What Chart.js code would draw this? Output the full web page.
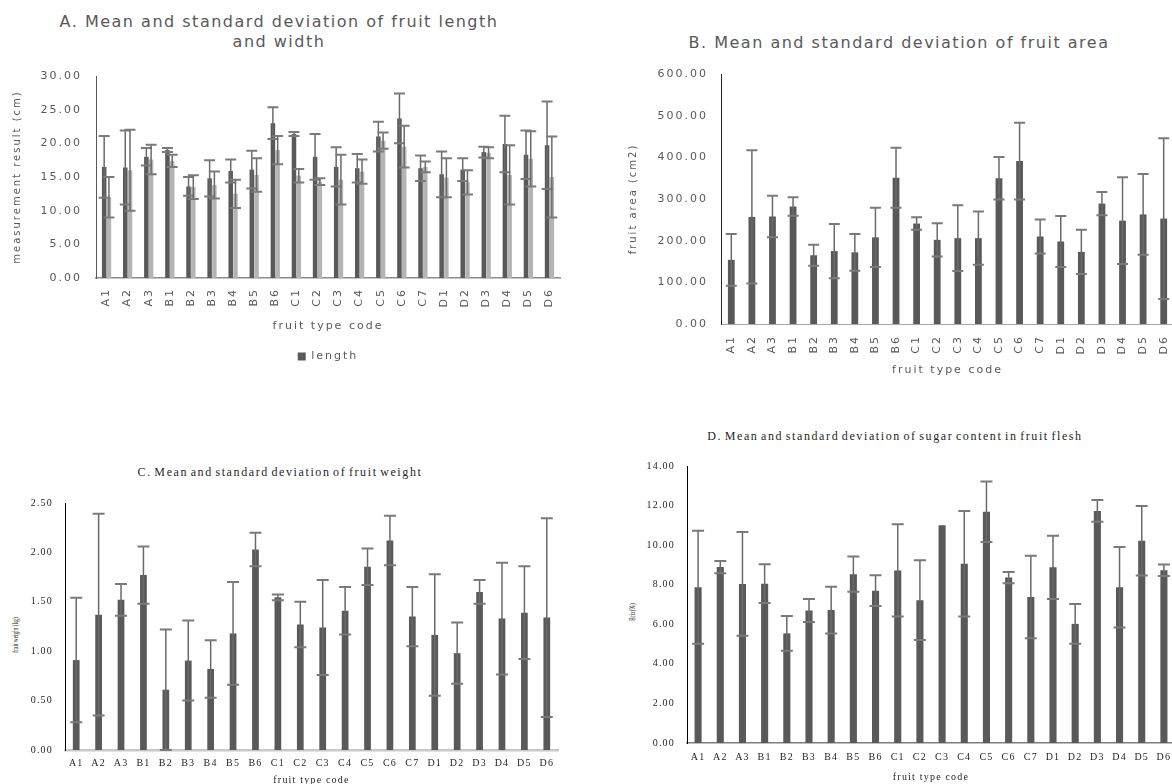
<!DOCTYPE html>
<html lang="en">
<head>
<meta charset="utf-8">
<title>Fruit measurements</title>
<script src="https://cdn.jsdelivr.net/npm/chart.js@4.4.1/dist/chart.umd.min.js"></script>
<style>
  html, body { margin: 0; padding: 0; background: #fff; }
  body { position: relative; width: 1172px; height: 784px; overflow: hidden; }
  canvas { position: absolute; }
  .title { position: absolute; white-space: nowrap; text-align: center; transform: translateX(-50%); }
  .sans { font: 16px/20px 'DejaVu Sans', sans-serif; letter-spacing: 1.5px; color: #595959; }
  .serif { font: 12px/16px 'Liberation Serif', serif; letter-spacing: 1.6px; word-spacing: -2px; color: #262626; }
  .ytitle { position: absolute; white-space: nowrap; font: 9px 'Liberation Serif', serif; color: #262626;
            transform: translate(-50%, -50%) rotate(-90deg) scaleX(0.6); }
</style>
</head>
<body>
<div class="title sans" style="left:279px; top:12px;">A. Mean and standard deviation of fruit length<br>and width</div>
<div class="title sans" style="left:899px; top:33px;">B. Mean and standard deviation of fruit area</div>
<div class="title serif" style="left:280px; top:464px;">C. Mean and standard deviation of fruit weight</div>
<div class="title serif" style="left:895px; top:428px;">D. Mean and standard deviation of sugar content in fruit flesh</div>
<div class="ytitle" style="left:15px; top:635px;">fruit weight (kg)</div>
<div class="ytitle" style="left:632px; top:612px;">Brix(%)</div>

<canvas id="chart__a" width="585" height="372" style="left:0; top:0;"></canvas>
<canvas id="chart__b" width="600" height="381" style="left:590px; top:0;"></canvas>
<canvas id="chart__c" width="590" height="335" style="left:0; top:455px;"></canvas>
<canvas id="chart__d" width="590" height="342" style="left:590px; top:445px;"></canvas>

<script>
const fruitCodes = ['A1', 'A2', 'A3', 'B1', 'B2', 'B3', 'B4', 'B5', 'B6', 'C1', 'C2', 'C3', 'C4', 'C5', 'C6', 'C7', 'D1', 'D2', 'D3', 'D4', 'D5', 'D6']

// A. length / width (cm)
const lengthMean = [16.5, 16.4, 18.0, 19.0, 13.6, 14.8, 15.9, 16.1, 23.0, 21.4, 18.0, 16.5, 16.3, 21.0, 23.7, 16.3, 15.4, 16.1, 18.7, 19.9, 18.3, 19.7]
const lengthSd = [4.6, 5.5, 1.3, 0.3, 1.4, 2.7, 1.7, 2.8, 2.35, 0.3, 3.4, 2.9, 2.1, 2.2, 3.7, 1.9, 3.4, 1.7, 0.8, 4.2, 3.6, 6.5]
const widthMean = [12.0, 16.0, 17.6, 17.4, 13.5, 13.8, 12.5, 15.3, 19.0, 15.2, 14.3, 14.6, 15.8, 20.4, 19.5, 16.5, 14.9, 14.2, 18.6, 15.3, 17.7, 15.0]
const widthSd = [3.0, 6.0, 2.2, 0.9, 1.75, 2.0, 2.1, 2.5, 2.1, 1.0, 0.5, 3.7, 1.8, 1.2, 3.1, 0.8, 2.9, 1.8, 0.8, 4.4, 4.1, 6.0]

// B. area (cm2)
const areaMean = [154, 257, 258, 282, 165, 175, 172, 208, 351, 241, 202, 206, 206, 350, 391, 210, 198, 173, 289, 248, 263, 253]
const areaSd = [62, 160, 50, 22, 25, 65, 44, 71, 72, 15, 40, 79, 64, 51, 92, 41, 61, 53, 28, 104, 97, 193]

// C. weight (kg)
const weightMean = [0.91, 1.37, 1.52, 1.77, 0.61, 0.905, 0.82, 1.18, 2.03, 1.545, 1.27, 1.24, 1.41, 1.855, 2.12, 1.35, 1.165, 0.98, 1.60, 1.33, 1.39, 1.34]
const weightSd = [0.63, 1.02, 0.16, 0.29, 0.61, 0.405, 0.29, 0.52, 0.17, 0.03, 0.23, 0.48, 0.24, 0.185, 0.25, 0.30, 0.615, 0.31, 0.12, 0.565, 0.47, 1.005]

// D. sugar content (Brix %)
const brixMean = [7.87, 8.89, 8.04, 8.05, 5.54, 6.70, 6.72, 8.53, 7.70, 8.72, 7.22, 11.0, 9.06, 11.69, 8.36, 7.38, 8.88, 6.02, 11.73, 7.87, 10.22, 8.73]
const brixSd = [2.86, 0.31, 2.62, 0.98, 0.88, 0.58, 1.18, 0.89, 0.78, 2.33, 2.02, 0, 2.67, 1.53, 0.28, 2.08, 1.6, 1.01, 0.55, 2.03, 1.76, 0.29]

// mean +/- sd whiskers, drawn on top of the bars
const errorBars = {
    id: 'errorBars',
    afterDatasetsDraw(chart, args, opts) {
        const { ctx, scales: { y } } = chart
        chart.data.datasets.forEach((ds, i) => {
            if (!ds.sd) return
            chart.getDatasetMeta(i).data.forEach((bar, j) => {
                const sd = ds.sd[j]
                if (!sd) return
                const top = y.getPixelForValue(ds.data[j] + sd)
                const bottom = y.getPixelForValue(ds.data[j] - sd)
                ctx.save()
                ctx.strokeStyle = opts.color
                ctx.lineWidth = opts.width
                ctx.beginPath()
                ctx.moveTo(bar.x, top)
                ctx.lineTo(bar.x, bottom)
                ctx.stroke()
                ctx.strokeStyle = opts.capColor
                ctx.lineWidth = opts.capWidth
                ctx.beginPath()
                ctx.moveTo(bar.x - opts.cap, top)
                ctx.lineTo(bar.x + opts.cap, top)
                ctx.moveTo(bar.x - opts.cap, bottom)
                ctx.lineTo(bar.x + opts.cap, bottom)
                ctx.stroke()
                ctx.restore()
            })
        })
    }
}

// the source figure has very spread out lettering
const letterSpacing = {
    id: 'letterSpacing',
    beforeUpdate(chart, args, opts) { chart.ctx.letterSpacing = opts.value },
    beforeDraw(chart, args, opts) { chart.ctx.letterSpacing = opts.value }
}

const sansFont = { family: "'DejaVu Sans', sans-serif", size: 11 }
const serifFont = { family: "'Liberation Serif', serif", size: 10 }

// A
new Chart(document.getElementById('chart__a'), {
    type: 'bar',
    data: {
        labels: fruitCodes,
        datasets: [{
            label: 'length',
            data: lengthMean,
            sd: lengthSd,
            backgroundColor: '#595959',
            categoryPercentage: 0.45,
            barPercentage: 0.95
        }, {
            label: 'width',
            data: widthMean,
            sd: widthSd,
            backgroundColor: '#b4b4b4',
            categoryPercentage: 0.45,
            barPercentage: 0.95
        }]
    },
    options: {
        responsive: false,
        animation: false,
        layout: { padding: { top: 76, right: 25, left: 0, bottom: 0 } },
        plugins: {
            tooltip: { enabled: false },
            legend: {
                position: 'bottom',
                fullSize: false,
                labels: {
                    filter: item => item.datasetIndex === 0, // only "length" shows in the original
                    boxWidth: 8,
                    boxHeight: 8,
                    padding: 14,
                    color: '#595959',
                    font: sansFont
                }
            },
            errorBars: { color: '#6a6a6a', width: 1.5, capColor: '#7a7a7a', capWidth: 2, cap: 5.5 },
            letterSpacing: { value: '2px' }
        },
        scales: {
            x: {
                grid: { display: false, drawTicks: false },
                border: { color: '#8c8c8c', width: 1.5 },
                ticks: { minRotation: 90, maxRotation: 90, padding: 10, color: '#595959', font: sansFont, autoSkip: false },
                title: { display: true, text: 'fruit type code', color: '#595959', font: sansFont, padding: { top: 4, bottom: 4 } },
                afterFit: s => { s.height = 59 }
            },
            y: {
                min: 0,
                max: 30,
                grid: { display: false, drawTicks: false },
                border: { color: '#595959', width: 1 },
                ticks: { stepSize: 5, padding: 14, color: '#595959', font: sansFont, callback: v => v.toFixed(2) },
                title: { display: true, text: 'measurement result (cm)', color: '#595959', font: { family: "'DejaVu Sans', sans-serif", size: 10 }, padding: { top: 11, bottom: 4 } },
                afterFit: s => { s.width = 96 }
            }
        }
    },
    plugins: [errorBars, letterSpacing]
});

// B
new Chart(document.getElementById('chart__b'), {
    type: 'bar',
    data: {
        labels: fruitCodes,
        datasets: [{
            label: 'area',
            data: areaMean,
            sd: areaSd,
            backgroundColor: '#595959',
            categoryPercentage: 0.33,
            barPercentage: 1
        }]
    },
    options: {
        responsive: false,
        animation: false,
        layout: { padding: { top: 74, right: 16, left: 0, bottom: 0 } },
        plugins: {
            tooltip: { enabled: false },
            legend: { display: false },
            errorBars: { color: '#6a6a6a', width: 1.5, capColor: '#7a7a7a', capWidth: 2, cap: 5.5 },
            letterSpacing: { value: '2px' }
        },
        scales: {
            x: {
                grid: { display: false, drawTicks: false },
                border: { color: '#a6a6a6', width: 1 },
                ticks: { minRotation: 90, maxRotation: 90, padding: 11, color: '#595959', font: sansFont, autoSkip: false },
                title: { display: true, text: 'fruit type code', color: '#595959', font: sansFont, padding: { top: 4, bottom: 4 } },
                afterFit: s => { s.height = 57 }
            },
            y: {
                min: 0,
                max: 600,
                grid: { display: false, drawTicks: false },
                border: { color: '#262626', width: 1 },
                ticks: { stepSize: 100, padding: 13, color: '#595959', font: sansFont, callback: v => v.toFixed(2) },
                title: { display: true, text: 'fruit area (cm2)', color: '#595959', font: { family: "'DejaVu Sans', sans-serif", size: 10 }, padding: { top: 37, bottom: 4 } },
                afterFit: s => { s.width = 131 }
            }
        }
    },
    plugins: [errorBars, letterSpacing]
});

// C
new Chart(document.getElementById('chart__c'), {
    type: 'bar',
    data: {
        labels: fruitCodes,
        datasets: [{
            label: 'weight',
            data: weightMean,
            sd: weightSd,
            backgroundColor: '#595959',
            categoryPercentage: 0.3,
            barPercentage: 1
        }]
    },
    options: {
        responsive: false,
        animation: false,
        layout: { padding: { top: 48, right: 32, left: 0, bottom: 0 } },
        plugins: {
            tooltip: { enabled: false },
            legend: { display: false },
            errorBars: { color: '#6a6a6a', width: 1.5, capColor: '#7a7a7a', capWidth: 2, cap: 6 },
            letterSpacing: { value: '1.2px' }
        },
        scales: {
            x: {
                grid: { display: false, drawTicks: false },
                border: { color: '#c8c8c8', width: 2.5 },
                ticks: { maxRotation: 0, padding: 7, color: '#262626', font: serifFont, autoSkip: false },
                title: { display: true, text: 'fruit type code', color: '#262626', font: serifFont, padding: { top: 4, bottom: 4 } },
                afterFit: s => { s.height = 40 }
            },
            y: {
                min: 0,
                max: 2.5,
                grid: { display: false, drawTicks: false },
                border: { color: '#000', width: 1 },
                ticks: { stepSize: 0.5, padding: 12, color: '#262626', font: serifFont, callback: v => v.toFixed(2) },
                afterFit: s => { s.width = 65 }
            }
        }
    },
    plugins: [errorBars, letterSpacing]
});

// D
new Chart(document.getElementById('chart__d'), {
    type: 'bar',
    data: {
        labels: fruitCodes,
        datasets: [{
            label: 'Brix',
            data: brixMean,
            sd: brixSd,
            backgroundColor: '#595959',
            categoryPercentage: 0.32,
            barPercentage: 1
        }]
    },
    options: {
        responsive: false,
        animation: false,
        layout: { padding: { top: 21, right: 5, left: 0, bottom: 0 } },
        plugins: {
            tooltip: { enabled: false },
            legend: { display: false },
            errorBars: { color: '#6a6a6a', width: 1.5, capColor: '#7a7a7a', capWidth: 2, cap: 6 },
            letterSpacing: { value: '1.2px' }
        },
        scales: {
            x: {
                grid: { display: false, drawTicks: false },
                border: { color: '#7f7f7f', width: 1.5 },
                ticks: { maxRotation: 0, padding: 8, color: '#262626', font: serifFont, autoSkip: false },
                title: { display: true, text: 'fruit type code', color: '#262626', font: serifFont, padding: { top: 4, bottom: 4 } },
                afterFit: s => { s.height = 44 }
            },
            y: {
                min: 0,
                max: 14,
                grid: { display: false, drawTicks: false },
                border: { color: '#000', width: 1 },
                ticks: { stepSize: 2, padding: 12, color: '#262626', font: serifFont, callback: v => v.toFixed(2) },
                afterFit: s => { s.width = 97 }
            }
        }
    },
    plugins: [errorBars, letterSpacing]
});
</script>
</body>
</html>
